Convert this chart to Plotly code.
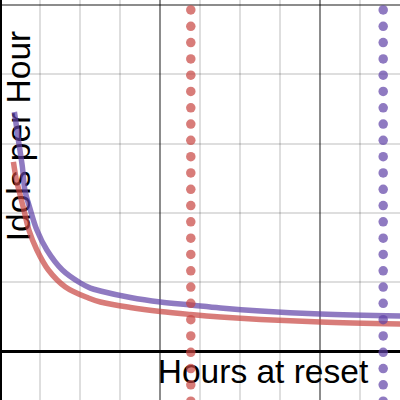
import numpy as np
import plotly.graph_objects as go

# Hours at reset (x) and idols per hour (y)
purple_x = [1.75, 2.25, 2.75, 3.06, 3.75, 4.56, 5.81, 7.75, 10.0, 11.25, 12.5, 16.25, 20.0, 23.75, 27.5, 32.5, 40.0, 50.0]
purple_y = [3.456, 3.052, 2.662, 2.330, 2.042, 1.753, 1.465, 1.176, 0.988, 0.915, 0.873, 0.779, 0.714, 0.671, 0.628, 0.584, 0.541, 0.512]

red_x = [1.625, 2.0, 2.31, 2.94, 3.56, 4.56, 6.0, 8.125, 11.0, 12.5, 16.25, 20.0, 23.75, 27.5, 32.5, 40.0, 50.0]
red_y = [2.735, 2.475, 2.330, 2.042, 1.753, 1.465, 1.176, 0.931, 0.772, 0.714, 0.635, 0.577, 0.534, 0.498, 0.462, 0.426, 0.397]

# vertical dotted markers (hours)
red_reset = 23.8
purple_reset = 47.85

x_title = "Hours at reset"
y_title = "Idols per Hour"

RED = "rgba(199,68,64,0.7)"
PURPLE = "rgba(96,66,166,0.7)"

x_range = [-0.05, 49.95]
y_range = [-0.700, 5.072]

dot_step = 0.2352
dot_y = np.arange(4.928, y_range[0] - dot_step, -dot_step)

fig = go.Figure()
fig.add_trace(go.Scatter(x=red_x, y=red_y, mode="lines", line=dict(color=RED, width=5.5, shape="spline"), hoverinfo="skip"))
fig.add_trace(go.Scatter(x=purple_x, y=purple_y, mode="lines", line=dict(color=PURPLE, width=5.5, shape="spline"), hoverinfo="skip"))
fig.add_trace(go.Scatter(x=[red_reset] * len(dot_y), y=dot_y, mode="markers",
                         marker=dict(color=RED, size=9.5, line=dict(width=0)), hoverinfo="skip"))
fig.add_trace(go.Scatter(x=[purple_reset] * len(dot_y), y=dot_y, mode="markers",
                         marker=dict(color=PURPLE, size=9.5, line=dict(width=0)), hoverinfo="skip"))

halo = ",".join(f"{dx}px {dy}px 0 white" for dx in (-1, 0, 1) for dy in (-1, 0, 1) if dx or dy)
font = dict(family="Liberation Sans, Arial, sans-serif", size=33.5, color="black")


def label_shape(text, x0, x1, y0, y1, angle):
    base = dict(type="rect", xref="paper", yref="paper", x0=x0, x1=x1, y0=y0, y1=y1,
                line=dict(width=0), fillcolor="rgba(0,0,0,0)", layer="between")
    try:
        fig.add_shape(**base, label=dict(text=text, textposition="middle center", textangle=angle,
                                         font=dict(font, shadow=halo)))
    except ValueError:
        fig.add_shape(**base, label=dict(text=text, textposition="middle center", textangle=angle, font=font))


label_shape(x_title, 158 / 400, 368 / 400, 1 - 385 / 400, 1 - 351 / 400, 0)
label_shape(y_title, 0 / 400, 30 / 400, 1 - 242 / 400, 1 - 30 / 400, -90)

axis_common = dict(showticklabels=False, ticks="", showline=False, zeroline=True,
                   zerolinecolor="black", zerolinewidth=2.5,
                   gridcolor="rgba(0,0,0,0.45)", gridwidth=1.5)
fig.update_xaxes(range=x_range, dtick=20, tick0=0,
                 minor=dict(dtick=5, tick0=0, showgrid=True, gridcolor="rgba(0,0,0,0.13)", gridwidth=1.5),
                 **axis_common)
fig.update_yaxes(range=y_range, dtick=5, tick0=0,
                 minor=dict(dtick=1, tick0=0, showgrid=True, gridcolor="rgba(0,0,0,0.13)", gridwidth=1.5),
                 **axis_common)
fig.update_layout(width=400, height=400, margin=dict(l=0, r=0, t=0, b=0),
                  plot_bgcolor="white", paper_bgcolor="white", showlegend=False)
fig.write_html("out.html", config={"displayModeBar": False},
               post_script="document.body.style.margin='0';document.body.style.overflow='hidden';")
